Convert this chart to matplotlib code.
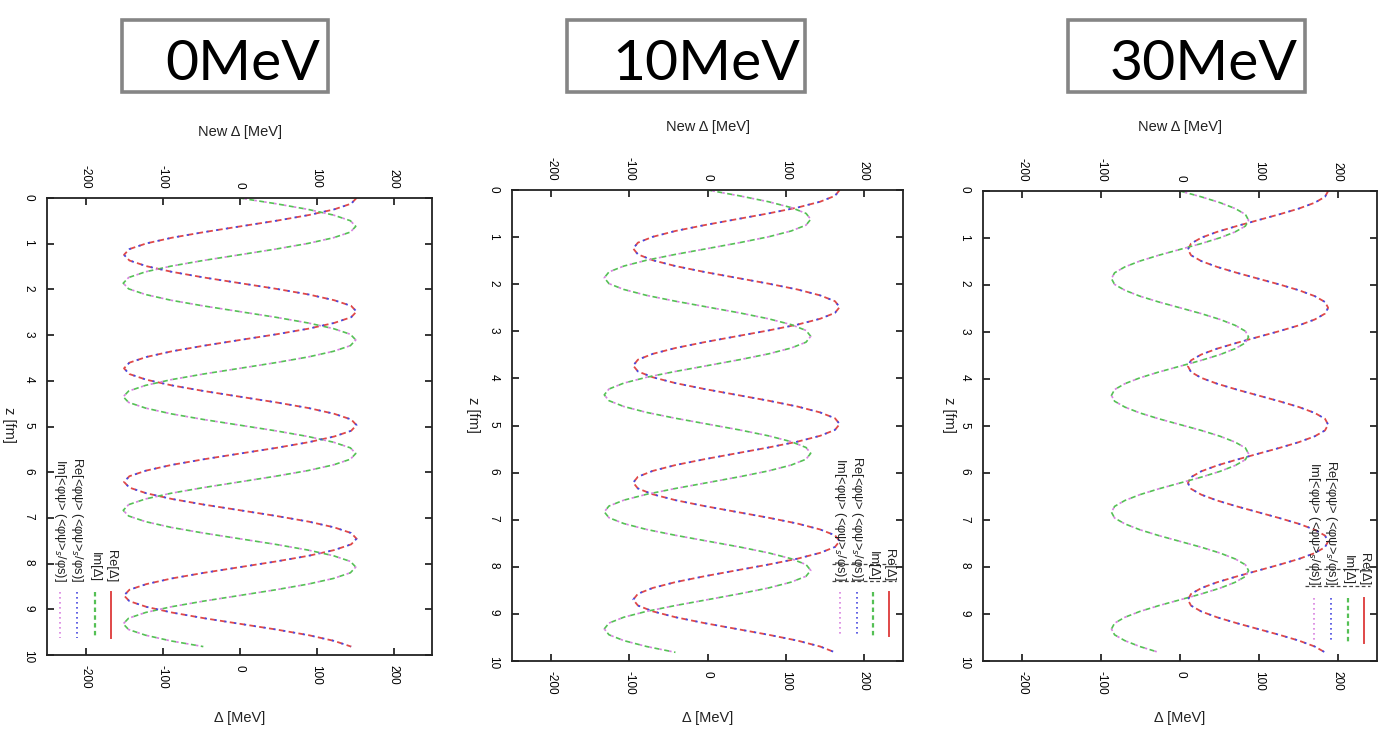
import matplotlib
matplotlib.use('Agg')
import matplotlib.pyplot as plt
from matplotlib.patches import Rectangle
from matplotlib.lines import Line2D

plt.rcParams['font.family'] = ['Liberation Sans', 'DejaVu Sans']
plt.rcParams['mathtext.fontset'] = 'dejavusans'
plt.rcParams['axes.unicode_minus'] = False

# ---------------- data ----------------
panel_titles = ['0MeV', '10MeV', '30MeV']
x_ticks = [-200, -100, 0, 100, 200]
z_ticks = [0, 1, 2, 3, 4, 5, 6, 7, 8, 9, 10]
legend_labels = ['Re[Δ]', 'Im[Δ]', 'Re[<φψ> (<φψ>$_s$/φs)]', 'Im[<φψ> (<φψ>$_s$/φs)]']

z_fm = [0.000, 0.124, 0.249, 0.373, 0.497, 0.621, 0.746, 0.870, 0.994, 1.118,
        1.243, 1.367, 1.491, 1.615, 1.740, 1.864, 1.988, 2.112, 2.237, 2.361,
        2.485, 2.609, 2.734, 2.858, 2.982, 3.106, 3.231, 3.355, 3.479, 3.603,
        3.728, 3.852, 3.976, 4.100, 4.225, 4.349, 4.473, 4.597, 4.722, 4.846,
        4.970, 5.094, 5.219, 5.343, 5.467, 5.591, 5.716, 5.840, 5.964, 6.088,
        6.213, 6.337, 6.461, 6.585, 6.710, 6.834, 6.958, 7.082, 7.207, 7.331,
        7.455, 7.579, 7.704, 7.828, 7.952, 8.076, 8.201, 8.325, 8.449, 8.573,
        8.698, 8.822, 8.946, 9.070, 9.195, 9.319, 9.443, 9.567, 9.692, 9.816]

re_delta_0 = [152, 145, 123, 90, 48, 1, -46, -88, -121, -143,
              -150, -143, -121, -88, -46, 1, 48, 90, 123, 145,
              152, 145, 123, 90, 48, 1, -46, -88, -121, -143,
              -150, -143, -121, -88, -46, 1, 48, 90, 123, 145,
              152, 145, 123, 90, 48, 1, -46, -88, -121, -143,
              -150, -143, -121, -88, -46, 1, 48, 90, 123, 145,
              152, 145, 123, 90, 48, 1, -46, -88, -121, -143,
              -150, -143, -121, -88, -46, 1, 48, 90, 123, 145]
im_delta_0 = [0, 47, 89, 122, 144, 151, 144, 122, 89, 47,
              0, -47, -89, -122, -144, -151, -144, -122, -89, -47,
              0, 47, 89, 122, 144, 151, 144, 122, 89, 47,
              0, -47, -89, -122, -144, -151, -144, -122, -89, -47,
              0, 47, 89, 122, 144, 151, 144, 122, 89, 47,
              0, -47, -89, -122, -144, -151, -144, -122, -89, -47,
              0, 47, 89, 122, 144, 151, 144, 122, 89, 47,
              0, -47, -89, -122, -144, -151, -144, -122, -89, -47]

re_delta_10 = [169, 163, 144, 115, 78, 37, -4, -41, -70, -89,
               -95, -89, -70, -41, -4, 37, 78, 115, 144, 163,
               169, 163, 144, 115, 78, 37, -4, -41, -70, -89,
               -95, -89, -70, -41, -4, 37, 78, 115, 144, 163,
               169, 163, 144, 115, 78, 37, -4, -41, -70, -89,
               -95, -89, -70, -41, -4, 37, 78, 115, 144, 163,
               169, 163, 144, 115, 78, 37, -4, -41, -70, -89,
               -95, -89, -70, -41, -4, 37, 78, 115, 144, 163]
im_delta_10 = [0, 41, 78, 107, 126, 132, 126, 107, 78, 41,
               0, -41, -78, -107, -126, -132, -126, -107, -78, -41,
               0, 41, 78, 107, 126, 132, 126, 107, 78, 41,
               0, -41, -78, -107, -126, -132, -126, -107, -78, -41,
               0, 41, 78, 107, 126, 132, 126, 107, 78, 41,
               0, -41, -78, -107, -126, -132, -126, -107, -78, -41,
               0, 41, 78, 107, 126, 132, 126, 107, 78, 41,
               0, -41, -78, -107, -126, -132, -126, -107, -78, -41]

re_delta_30 = [188, 184, 171, 151, 126, 99, 72, 47, 27, 14,
               10, 14, 27, 47, 72, 99, 126, 151, 171, 184,
               188, 184, 171, 151, 126, 99, 72, 47, 27, 14,
               10, 14, 27, 47, 72, 99, 126, 151, 171, 184,
               188, 184, 171, 151, 126, 99, 72, 47, 27, 14,
               10, 14, 27, 47, 72, 99, 126, 151, 171, 184,
               188, 184, 171, 151, 126, 99, 72, 47, 27, 14,
               10, 14, 27, 47, 72, 99, 126, 151, 171, 184]
im_delta_30 = [0, 27, 51, 70, 83, 87, 83, 70, 51, 27,
               0, -27, -51, -70, -83, -87, -83, -70, -51, -27,
               0, 27, 51, 70, 83, 87, 83, 70, 51, 27,
               0, -27, -51, -70, -83, -87, -83, -70, -51, -27,
               0, 27, 51, 70, 83, 87, 83, 70, 51, 27,
               0, -27, -51, -70, -83, -87, -83, -70, -51, -27,
               0, 27, 51, 70, 83, 87, 83, 70, 51, 27,
               0, -27, -51, -70, -83, -87, -83, -70, -51, -27]

# <phi psi>-based estimates coincide with the gap curves
re_phipsi_0, im_phipsi_0 = re_delta_0, im_delta_0
re_phipsi_10, im_phipsi_10 = re_delta_10, im_delta_10
re_phipsi_30, im_phipsi_30 = re_delta_30, im_delta_30

# ---------------- layout ----------------
W, H = 1387, 755
fig = plt.figure(figsize=(W / 100, H / 100), dpi=100)


def fx(px):
    return px / W


def fy(py):
    return 1 - py / H


RED, GREEN, BLUE, MAG = '#e04848', '#55c055', '#4848e0', '#d880e0'

panels = [
    dict(box=(47, 432, 198, 655), title_box=(122, 328), title_x=320,
         data=(re_delta_0, im_delta_0, re_phipsi_0, im_phipsi_0),
         top_lab=(240, 132), bot_lab=(240, 718), z_lab=(9, 425),
         leg_x=[111, 95, 77, 60], leg_end=582, leg_line=(592, 638), leg_box=None),
    dict(box=(512, 903, 190, 661), title_box=(567, 805), title_x=800,
         data=(re_delta_10, im_delta_10, re_phipsi_10, im_phipsi_10),
         top_lab=(708, 127), bot_lab=(708, 718), z_lab=(473, 415),
         leg_x=[889, 873, 857, 840], leg_end=581, leg_line=(592, 636),
         leg_box=(832, 896, 564, 581)),
    dict(box=(983, 1377, 191, 661), title_box=(1068, 1305), title_x=1298,
         data=(re_delta_30, im_delta_30, re_phipsi_30, im_phipsi_30),
         top_lab=(1180, 127), bot_lab=(1180, 718), z_lab=(949, 415),
         leg_x=[1364, 1348, 1331, 1314], leg_end=585, leg_line=(598, 643),
         leg_box=(1305, 1370, 569, 586)),
]

for i, p in enumerate(panels):
    l, r, t, b = p['box']
    ax = fig.add_axes([fx(l), fy(b), (r - l) / W, (b - t) / H])
    re_d, im_d, re_p, im_p = p['data']
    ax.plot(re_d, z_fm, color=RED, lw=1.3, ls=(0, (3, 2.5)))
    ax.plot(im_d, z_fm, color=GREEN, lw=1.2, ls=(0, (3, 3)))
    ax.plot(re_p, z_fm, color=BLUE, lw=1.3, ls=(3, (1.2, 4.3)))
    ax.plot(im_p, z_fm, color=MAG, lw=1.2, ls=(3, (1.5, 4.5)))
    ax.set_xlim(-250, 250)
    ax.set_ylim(10, 0)
    ax.set_xticks(x_ticks)
    ax.set_yticks(z_ticks)
    ax.tick_params(direction='in', length=5, width=1.1, top=True, right=True,
                   labeltop=True, labelbottom=True, labelsize=8.5)
    ax.tick_params(axis='x', labelrotation=-90, pad=7)
    ax.tick_params(axis='y', labelrotation=-90, pad=9)
    for s in ax.spines.values():
        s.set_linewidth(1.3)
        s.set_color('#222222')

    # axis labels
    fig.text(fx(p['top_lab'][0]), fy(p['top_lab'][1]), 'New Δ [MeV]',
             ha='center', va='center', fontsize=10.5, color='#222222')
    fig.text(fx(p['bot_lab'][0]), fy(p['bot_lab'][1]), 'Δ [MeV]',
             ha='center', va='center', fontsize=10.5, color='#222222')
    fig.text(fx(p['z_lab'][0]), fy(p['z_lab'][1]), 'z [fm]', rotation=-90,
             ha='center', va='center', fontsize=10.5, color='#222222')

    # rotated key
    styles = [dict(color=RED, lw=1.4, ls='-'),
              dict(color=GREEN, lw=1.6, ls=(0, (2, 1.5))),
              dict(color=BLUE, lw=1.2, ls=(0, (1, 2))),
              dict(color=MAG, lw=1.2, ls=(0, (1, 2)))]
    for lab, x, st in zip(legend_labels, p['leg_x'], styles):
        fig.text(fx(x), fy(p['leg_end']), lab, rotation=-90, ha='center',
                 va='bottom', fontsize=9.3, color='#222222')
        y1, y2 = p['leg_line']
        fig.add_artist(Line2D([fx(x), fx(x)], [fy(y1), fy(y2)],
                              transform=fig.transFigure, **st))
    if p['leg_box'] is not None:
        x1, x2, ya, yb = p['leg_box']
        for yy in (ya, yb):
            fig.add_artist(Line2D([fx(x1), fx(x2)], [fy(yy), fy(yy)],
                                  transform=fig.transFigure, color='#444444',
                                  lw=0.9, ls=(0, (3, 2))))

    # title box
    bx1, bx2 = p['title_box']
    fig.add_artist(Rectangle((fx(bx1), fy(92)), (bx2 - bx1) / W, 72 / H,
                             transform=fig.transFigure, fill=False,
                             edgecolor='#858585', lw=2.6))
    fig.text(fx(p['title_x']), fy(80), panel_titles[i], ha='right',
             va='baseline', fontsize=41, color='black',
             family=['Lato', 'Liberation Sans', 'DejaVu Sans'], fontweight='normal')

fig.savefig('out.png', dpi=100)
